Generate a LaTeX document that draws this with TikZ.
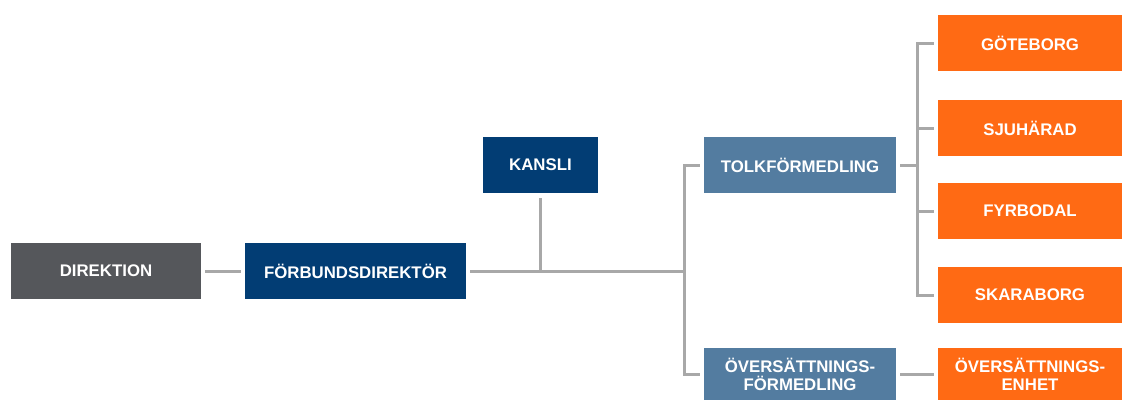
\documentclass[tikz,border=0pt]{standalone}
\usepackage{fontspec}
\setmainfont{Liberation Sans}
\definecolor{navy}{HTML}{023D74}
\definecolor{steel}{HTML}{537CA0}
\definecolor{slate}{HTML}{55575B}
\definecolor{orng}{HTML}{FF6A14}
\definecolor{conncol}{HTML}{A8A8A8}
\begin{document}
\begin{tikzpicture}[x=1pt,y=-1pt,
  box/.style={rectangle, inner sep=0pt, text=white, align=center,
    font=\fontsize{16.8}{18}\selectfont\bfseries},
  conn/.style={draw=conncol, line width=3pt, line join=miter}]
\useasboundingbox (0,0) rectangle (1122,400);
% boxes
\node[box, fill=slate, minimum width=190, minimum height=56] (dir) at (106,271) {DIREKTION};
\node[box, fill=navy, minimum width=221, minimum height=56] (forb) at (355.5,271) {FÖRBUNDSDIREKTÖR};
\node[box, fill=navy, minimum width=115, minimum height=56] (kansli) at (540.5,165) {KANSLI};
\node[box, fill=steel, minimum width=192, minimum height=56] (tolk) at (800,165) {TOLKFÖRMEDLING};
\node[box, fill=steel, minimum width=192, minimum height=52] (overs) at (800,374) {ÖVERSÄTTNINGS-\\FÖRMEDLING};
\node[box, fill=orng, minimum width=184, minimum height=56] (got) at (1030,43) {GÖTEBORG};
\node[box, fill=orng, minimum width=184, minimum height=56] (sju) at (1030,128) {SJUHÄRAD};
\node[box, fill=orng, minimum width=184, minimum height=56] (fyr) at (1030,211) {FYRBODAL};
\node[box, fill=orng, minimum width=184, minimum height=56] (ska) at (1030,295) {SKARABORG};
\node[box, fill=orng, minimum width=184, minimum height=52] (overse) at (1030,374) {ÖVERSÄTTNINGS-\\ENHET};
% junction coordinates
\coordinate (tr) at (684,270);
\coordinate (tb) at (917,166);
% connectors
\draw[conn, shorten <=4pt, shorten >=4pt] (dir.east) -- (forb.west);
\draw[conn, shorten <=4pt] (forb.east) -- (forb.east -| tr);
\draw[conn, shorten <=5pt] (kansli.south) -- (kansli.south |- forb.east);
\draw[conn, shorten <=4pt, shorten >=4pt] (tolk.west) -- (tolk.west -| tr) -- (overs.west -| tr) -- (overs.west);
\draw[conn, shorten <=4pt] (tolk.east) -- (tolk.east -| tb);
\draw[conn, shorten <=4pt, shorten >=4pt] (got.west) -- (got.west -| tb) -- (ska.west -| tb) -- (ska.west);
\draw[conn, shorten >=4pt] (sju.west -| tb) -- (sju.west);
\draw[conn, shorten >=4pt] (fyr.west -| tb) -- (fyr.west);
\draw[conn, shorten <=4pt, shorten >=4pt] (overs.east) -- (overse.west);
\end{tikzpicture}
\end{document}
